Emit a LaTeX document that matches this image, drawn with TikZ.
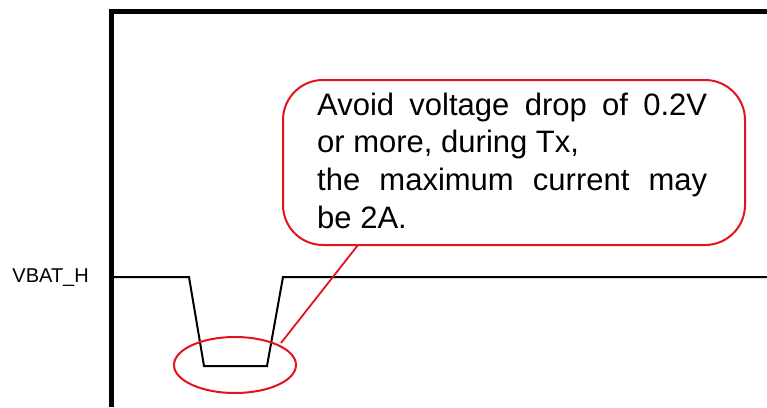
\documentclass[tikz,border=0pt]{standalone}
\usepackage{fontspec}
\setmainfont{Liberation Sans}
\usetikzlibrary{shapes.geometric}
\definecolor{callred}{RGB}{226,18,30}
\tikzset{
  frameline/.style={line width=5pt, line join=miter},
  signal/.style={line width=2pt, line join=miter},
  balloon/.style={draw=callred, line width=2pt, rounded corners=40pt, inner sep=0pt, fill=white},
  callout/.style={draw=callred, line width=1.8pt},
  ring/.style={draw=callred, line width=2pt, ellipse, inner sep=0pt, minimum width=122pt, minimum height=56pt},
  notetext/.style={font=\fontsize{31}{37.7}\selectfont, text width=390pt, align=justify, inner sep=0pt, anchor=base west},
  lbltext/.style={font=\fontsize{20}{24}\selectfont, inner sep=0pt, anchor=east}
}
\begin{document}
\begin{tikzpicture}[x=1pt,y=-1pt]
\useasboundingbox (0,0) rectangle (767,407);
% frame
\coordinate (fb) at (111,407);
\coordinate (fc) at (111,11.7);
\coordinate (fr) at (767,11.7);
\draw[frameline] (fb) -- (fc) -- (fr);
% signal
\coordinate (s0) at (113,277);
\coordinate (s1) at (189,277);
\coordinate (s2) at (204,366);
\coordinate (s3) at (267,366);
\coordinate (s4) at (283,277);
\coordinate (s5) at (767,277);
\draw[signal] (s0) -- (s1) -- (s2) -- (s3) -- (s4) -- (s5);
% label
\node[lbltext] (lbl) at (89,278) {VBAT\_H};
% ellipse
\node[ring] (ring) at (235,365) {};
% pointer
\coordinate (ptop) at (358,245);
\coordinate (tip) at (281,343);
\draw[callout] (ptop) -- (tip);
% balloon
\node[balloon, minimum width=462pt, minimum height=165pt] (note) at (514,162.5) {};
\node[notetext] (txt) at (317,115) {Avoid voltage drop of 0.2V\linebreak or more, during Tx,\\ the maximum current may\linebreak be 2A.};
\end{tikzpicture}
\end{document}
